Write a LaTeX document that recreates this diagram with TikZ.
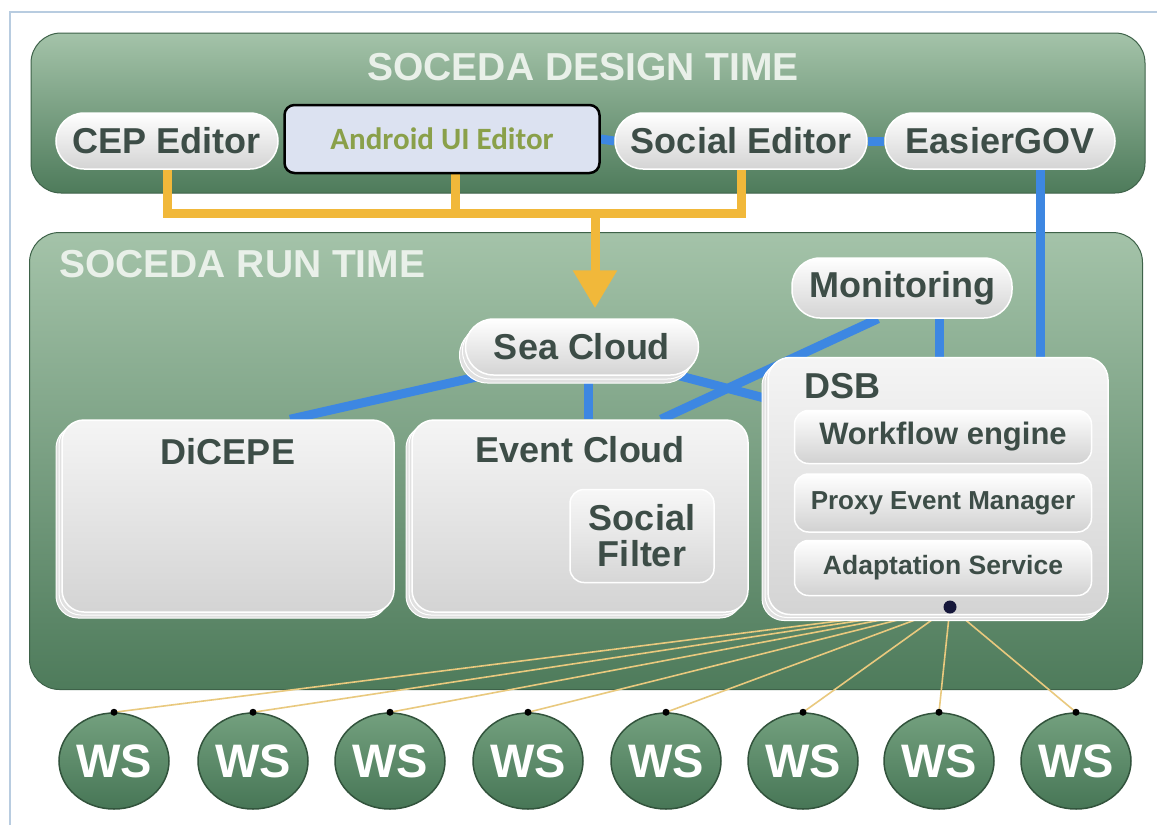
\documentclass[tikz,border=0pt]{standalone}
\usepackage{fontspec}
\setmainfont{Liberation Sans}
\newfontfamily\carlito{Carlito}
\usetikzlibrary{positioning,shapes.geometric,shadows,arrows.meta}
\definecolor{panelTop}{HTML}{A4C3A9}
\definecolor{panelBot}{HTML}{4E7B5B}
\definecolor{txtDark}{HTML}{3D4D47}
\definecolor{titleTxt}{HTML}{E9F0E9}
\definecolor{linkBlue}{HTML}{3D87E2}
\definecolor{linkYellow}{HTML}{F1B83A}
\definecolor{wireYellow}{HTML}{E9C97E}
\definecolor{androidFill}{HTML}{DCE2F1}
\definecolor{androidTxt}{HTML}{8AA04A}
\definecolor{wsTop}{HTML}{73A07E}
\definecolor{wsBot}{HTML}{477656}
\definecolor{dotNavy}{HTML}{15173A}
\definecolor{frameBlue}{HTML}{B8CCE0}
\newcommand{\fsz}[1]{\fontsize{#1}{#1}\selectfont}
\pgfdeclarelayer{back}
\pgfdeclarelayer{wires}
\pgfsetlayers{back,wires,main}

\begin{document}
\begin{tikzpicture}[x=1pt,y=-1pt,
  panel/.style={rounded corners=30pt,top color=panelTop,bottom color=panelBot,draw=panelBot!80!black,line width=1pt,inner sep=0pt},
  title/.style={font=\fsz{39}\bfseries,text=titleTxt,inner sep=0pt},
  pill/.style={rounded corners=28pt,top color=white,bottom color=black!17,draw=white,line width=1.5pt,minimum height=56pt,inner sep=0pt,font=\fsz{36}\bfseries,text=txtDark},
  box/.style={rounded corners=22pt,top color=black!4,bottom color=black!17,draw=white,line width=1.5pt,inner sep=0pt,
    double copy shadow={shadow xshift=-3pt,shadow yshift=-3pt,fill=black!12,draw=white,line width=1pt}},
  inbox/.style={rounded corners=14pt,top color=black!3,bottom color=black!16,draw=white,line width=1.5pt,inner sep=0pt,font=\fsz{36}\bfseries,text=txtDark},
  bar/.style={rounded corners=14pt,top color=white,bottom color=black!18,draw=white,line width=1.5pt,inner sep=0pt,minimum width=297pt,text=txtDark},
  lbl/.style={font=\fsz{36}\bfseries,text=txtDark,inner sep=0pt},
  androidbox/.style={rounded corners=10pt,fill=androidFill,draw=black,line width=2.5pt,inner sep=0pt,font=\carlito\fsz{31}\bfseries,text=androidTxt},
  ws/.style={ellipse,top color=wsTop,bottom color=wsBot,draw=wsBot!70!black,line width=1.5pt,minimum width=110pt,minimum height=96pt,inner sep=0pt,font=\fsz{47}\bfseries,text=white},
  blu/.style={linkBlue,line width=9pt},
  ylw/.style={linkYellow,line width=9pt},
  wire/.style={wireYellow,line width=1.6pt}]
\useasboundingbox (0,0) rectangle (1157,825);

% panels
\begin{pgfonlayer}{back}
\fill[white] (0,0) rectangle (1157,825);
\draw[frameBlue,line width=2.5pt] (10,825) -- (10,12) -- (1157,12);
\node[panel,minimum width=1114pt,minimum height=160pt] (design) at (588,113) {};
\node[panel,minimum width=1113pt,minimum height=457pt] (runtime) at (586,461) {};
\end{pgfonlayer}
\node[title] (designT) at (583,67) {SOCEDA DESIGN TIME};
\node[title,anchor=west] (runT) at (59,264) {SOCEDA RUN TIME};

% design time tools
\node[pill,minimum width=222pt] (cep) at (167,141) {CEP Editor};
\node[androidbox,minimum width=315pt,minimum height=68pt] (android) at (442,139) {Android UI Editor};
\node[pill,minimum width=252pt] (social) at (741,141) {Social Editor};
\node[pill,minimum width=230pt] (easier) at (1000,141) {EasierGOV};

% run time components
\node[pill,minimum width=220pt,minimum height=60pt] (monitor) at (902,288) {Monitoring};
\node[pill,minimum width=233pt,double copy shadow={shadow xshift=-3pt,shadow yshift=-4pt,fill=black!12,draw=white,line width=1pt}] (seacloud) at (582,347) {Sea Cloud};
\node[box,minimum width=332pt,minimum height=192pt] (dicepe) at (228,516) {};
\node[lbl,below=19pt of dicepe.north] (dicepeT) {DiCEPE};
\node[box,minimum width=336pt,minimum height=192pt] (eventcloud) at (580,516) {};
\node[lbl,below=17pt of eventcloud.north] (eventcloudT) {Event Cloud};
\node[inbox,minimum width=144pt,minimum height=93pt,align=center] (socfilter) at (642,536) {Social\\Filter};
\node[box,minimum width=340pt,minimum height=257pt] (dsb) at (938,486) {};
\node[lbl,below right=16pt and 37pt of dsb.north west] (dsbT) {DSB};
\node[bar,minimum height=53pt,font=\fsz{31}\bfseries] (workflow) at (943,437) {Workflow engine};
\node[bar,minimum height=58pt,font=\fsz{26}\bfseries] (proxy) at (943,503) {Proxy Event Manager};
\node[bar,minimum height=55pt,font=\fsz{26.5}\bfseries] (adapt) at (943,568) {Adaptation Service};
\coordinate (hub) at (950,607);

% web services
\foreach \x [count=\i] in {114,253,390,528,666,803,939,1076}{
  \node[ws] (ws\i) at (\x,761) {WS};
  \fill (ws\i.north) circle (3.5pt);
  \begin{pgfonlayer}{wires}
  \draw[wire] (hub) -- (ws\i.north);
  \end{pgfonlayer}
}
\fill[dotNavy] (hub) circle (6.5pt);

% connectors
\begin{pgfonlayer}{wires}
\coordinate (bus) at (595,213);
\draw[ylw] (cep.south) |- (bus) -| (social.south);
\draw[ylw] ([xshift=13pt]android.south) -- ([xshift=13pt]android.south |- bus);
\draw[ylw,-{Triangle[width=42pt,length=38pt]}] (bus) -- ([yshift=10pt]seacloud.north -| bus);
\draw[blu] (android.east) -- (social.west);
\draw[blu] (social.east) -- (easier.west);
\draw[blu] ([xshift=40pt]easier.south) -- ([xshift=40pt]easier.south |- dsb.north);
\draw[blu] ([xshift=37pt]monitor.south) -- ([xshift=37pt]monitor.south |- dsb.north);
\draw[blu] ([xshift=-24pt]monitor.south) -- ([xshift=81pt]eventcloud.north);
\draw[blu] ([xshift=-100pt]seacloud.south) -- ([xshift=62pt]dicepe.north);
\draw[blu] ([xshift=6pt]seacloud.south) -- ([xshift=6pt]seacloud.south |- eventcloud.north);
\draw[blu] ([xshift=-20pt]seacloud.south east) -- ([yshift=-42pt]dsb.north west);
\end{pgfonlayer}
\end{tikzpicture}
\end{document}
